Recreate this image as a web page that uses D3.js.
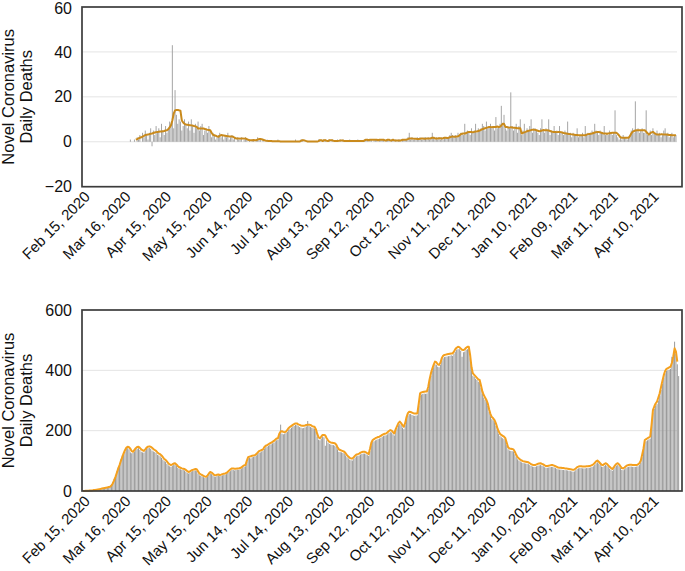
<!DOCTYPE html>
<html>
<head>
<meta charset="utf-8">
<script src="https://cdn.jsdelivr.net/npm/d3@7"></script>
<style>
  html, body { margin: 0; padding: 0; background: #fff; }
  svg { display: block; }
  text { font-family: "Liberation Sans", Arial, Helvetica, sans-serif; fill: #111; }
</style>
</head>
<body>
<svg id="chart" width="685" height="571"></svg>
<script>
// ---------------- DATA ----------------
// Day index 0 = Feb 15, 2020 (one value per day)
const tickLabels = ["Feb 15, 2020","Mar 16, 2020","Apr 15, 2020","May 15, 2020","Jun 14, 2020","Jul 14, 2020","Aug 13, 2020","Sep 12, 2020","Oct 12, 2020","Nov 11, 2020","Dec 11, 2020","Jan 10, 2021","Feb 09, 2021","Mar 11, 2021","Apr 10, 2021"];
const tickDays = [0,30,60,90,120,150,180,210,240,270,300,330,360,390,420];
const yTicksTop = [-20,0,20,40,60];
const yTicksBottom = [0,200,400,600];
const yTitle = ["Novel Coronavirus","Daily Deaths"];

// Top panel: daily deaths (bars)
const topDaily = [
null,null,null,null,null,null,null,null,null,null,
null,null,null,null,null,null,null,null,null,null,
null,null,null,null,null,null,null,null,null,null,
null,null,null,null,null,1,0,0,1,0,
2,1,3,0,4,2,5,3,1,4,
6,-2,5,3,7,4,6,2,8,5,
3,7,4,6,9,8,43,6,23,12,
8,10,9,5,7,10,8,6,9,5,
10,7,4,8,6,9,5,7,8,3,5,
6,4,7,5,2,4,3,1,2,3,
4,2,3,1,3,2,4,1,2,3,
1,2,0,2,1,1,2,0,1,2,
1,0,1,0,1,1,0,1,2,1,
1,0,1,0,0,1,0,0,0,0,
0,0,0,1,0,0,0,0,0,0,
0,0,0,0,0,0,1,0,0,0,
1,1,0,0,0,0,0,0,0,0,0,
0,0,1,1,0,0,1,1,0,0,
1,0,1,0,0,0,1,0,1,0,
1,0,0,0,0,1,0,0,0,0,
0,1,0,0,0,0,1,1,1,0,
1,1,0,1,1,1,0,1,1,1,
1,0,1,1,1,0,1,1,0,1,
0,1,1,0,1,1,1,1,2,4,
1,2,1,1,1,2,1,2,1,1,2,
2,1,2,1,2,4,2,1,2,1,
2,1,2,1,2,2,2,2,3,4,
3,2,3,2,4,3,4,4,3,8,
4,5,4,3,6,4,5,8,4,6,
5,6,8,7,5,9,6,7,8,6,
7,5,11,6,7,8,16,7,12,6,
5,7,6,22,7,5,6,8,4,7,
10,3,5,8,4,6,5,7,10,4,6,
6,5,4,3,6,10,5,4,6,5,
10,3,5,4,7,4,5,3,7,4,
4,3,5,4,9,3,4,2,4,3,
3,6,2,3,3,4,2,7,3,4,
3,4,5,4,8,5,4,3,5,4,
4,7,3,4,3,5,4,3,4,14,
3,2,1,2,1,3,2,2,1,2,
3,5,6,4,18,5,6,4,5,6,4,
4,14,3,4,5,3,6,4,3,5,
3,4,2,3,5,6,3,4,2,3,
4,2,3,3,null,null
];

// Top panel: moving average (line)
const topAvg = [
null,null,null,null,null,null,null,null,null,null,
null,null,null,null,null,null,null,null,null,null,
null,null,null,null,null,null,null,null,null,null,
null,null,null,null,null,null,null,null,null,1.0,
1.2,1.5,1.8,2.0,2.3,2.6,3.0,3.1,3.2,3.4,
3.6,3.7,3.9,4.1,4.3,4.4,4.5,4.6,4.6,4.7,
4.8,5.0,5.1,5.6,6.4,7.4,9.5,12.5,14.0,14.2,
14.1,14.0,13.8,9.5,8.6,8.0,7.7,7.6,7.5,7.4,
7.3,7.2,7.0,6.9,6.6,5.9,5.9,5.9,5.9,5.9,5.7,
5.5,5.3,5.2,5.1,4.0,3.1,2.9,2.7,2.4,2.2,
2.6,3.0,2.9,2.8,2.7,2.6,2.5,2.4,2.4,2.3,
2.2,1.8,1.5,1.5,1.5,1.4,1.5,1.5,1.4,1.5,
1.2,0.9,0.7,0.7,0.7,0.8,0.7,0.7,1.0,1.2,
1.2,1.1,0.9,0.7,0.5,0.4,0.3,0.3,0.3,0.2,
0.2,0.2,0.2,0.2,0.2,0.1,0.1,0.1,0.1,0.1,
0.1,0.1,0.1,0.1,0.1,0.1,0.1,0.1,0.1,0.1,
0.4,0.7,0.7,0.5,0.3,0.1,0.1,0.1,0.1,0.1,0.1,
0.1,0.1,0.3,0.7,0.7,0.3,0.7,0.7,0.4,0.3,
0.7,0.7,0.7,0.4,0.3,0.3,0.3,0.4,0.6,0.6,
0.6,0.3,0.3,0.3,0.3,0.3,0.3,0.3,0.3,0.3,
0.3,0.3,0.3,0.3,0.3,0.3,0.6,0.9,0.9,0.6,
0.9,0.9,0.9,0.9,0.9,0.9,0.6,0.9,0.9,0.9,
0.9,0.6,0.6,0.9,0.9,0.6,0.6,0.9,0.6,0.6,
0.6,0.6,0.6,0.6,0.9,0.9,0.9,1.0,1.2,1.5,
1.5,1.5,1.4,1.3,1.3,1.2,1.2,1.3,1.5,1.5,1.3,
1.3,1.5,1.5,1.5,1.6,1.8,1.8,1.5,1.5,1.5,
1.6,1.6,1.5,1.6,1.8,1.8,1.7,1.8,2.0,2.2,
2.4,2.2,2.2,2.3,2.4,2.8,3.4,3.6,3.7,3.7,
3.9,4.2,4.4,4.4,4.4,4.2,4.4,4.6,4.6,4.8,
5.0,5.3,5.6,5.8,6.0,6.2,6.4,6.6,6.6,6.5,
6.6,6.6,6.6,6.8,6.6,6.7,7.2,8.0,8.0,6.6,
6.6,6.4,6.3,6.5,6.4,6.2,6.2,6.1,6.0,6.0,
6.0,3.7,4.0,4.2,4.4,4.7,4.9,5.0,5.2,5.4,5.4,
5.3,5.1,4.9,4.7,4.8,5.0,5.2,5.1,5.1,5.1,
5.0,4.8,4.6,4.4,4.4,4.4,4.3,4.4,4.4,4.3,
4.1,3.9,3.8,3.7,3.6,3.5,3.4,3.3,3.2,3.1,
3.0,3.0,2.9,2.9,2.9,2.9,2.9,2.9,3.2,3.4,
3.5,3.6,3.7,3.9,4.1,4.3,4.4,4.4,4.2,4.0,
3.8,3.7,3.7,3.6,3.7,3.8,3.9,4.0,4.0,4.0,
4.0,3.5,2.8,2.0,1.8,1.8,1.8,1.8,1.8,1.8,
2.5,3.7,4.4,4.8,5.0,5.1,5.1,5.1,5.1,5.1,5.1,
5.1,4.5,3.8,3.2,3.8,4.2,4.4,3.9,3.5,3.2,
3.2,3.2,3.3,3.3,3.2,3.2,3.2,3.1,3.0,3.0,
2.9,2.9,2.9,2.9
];

// Bottom panel: daily deaths (bars)
const bottomDaily = [
0,0,0,1,0,1,2,1,2,3,
3,4,5,6,7,8,9,10,11,12,
13,20,30,40,52,65,78,92,105,118,
122,130,140,142,138,128,125,126,131,138,
140,142,136,130,128,127,134,140,142,143,
140,134,131,129,126,120,118,115,110,104,
99,97,90,85,82,80,84,86,88,83,
77,74,72,70,70,68,64,60,58,61,
64,66,67,68,66,58,52,50,48,46,43,
44,48,55,58,56,52,48,47,50,51,
49,50,52,53,54,56,60,63,66,70,
70,68,70,71,70,72,74,78,80,82,
96,108,110,108,112,113,115,118,122,127,
128,131,134,140,145,147,150,153,155,158,
160,165,168,170,185,220,190,188,190,192,
196,203,206,210,214,216,219,218,215,212,
210,208,209,211,214,232,215,212,210,208,206,
198,180,170,168,174,180,178,150,168,160,
156,154,153,152,150,146,138,130,129,128,
126,124,118,112,108,104,102,101,106,111,
115,116,118,121,123,124,124,122,119,116,
132,152,162,165,168,170,172,174,176,180,
182,184,185,188,192,195,194,188,184,198,
208,218,222,218,210,205,218,238,250,255,
255,252,250,249,250,251,282,315,320,322,323,
322,323,338,362,382,398,410,420,418,412,
410,418,432,440,444,445,446,447,448,450,
448,455,462,468,470,470,465,445,460,462,
468,470,470,440,400,382,378,372,368,362,
360,342,322,310,302,295,282,262,248,238,
234,228,216,202,190,182,178,175,172,168,
152,138,134,133,132,131,122,112,105,101,
98,95,93,92,91,90,89,86,83,81,80,
80,82,84,85,86,84,82,79,77,77,
78,79,80,80,78,76,74,72,71,71,
70,70,69,69,68,67,66,65,64,65,
69,73,75,76,76,75,75,75,76,76,
77,78,80,82,87,92,95,91,86,81,
80,83,86,84,79,74,70,67,72,79,
84,86,82,76,70,69,72,76,79,80,
81,81,80,80,80,81,82,86,94,112,133,
162,165,168,171,174,212,260,272,282,288,
300,315,335,355,375,390,398,400,402,405,
445,440,495,455,420,381
];

// Bottom panel: moving average (line)
const bottomAvg = [
0,0,1,1,1,2,2,2,3,3,
4,5,6,7,8,9,10,11,12,13,
14,18,25,35,47,60,74,86,100,112,
125,135,143,147,145,140,132,130,136,142,
146,147,143,138,135,133,138,144,147,148,
147,143,139,136,133,128,124,122,118,112,
106,103,98,92,88,86,88,91,92,88,
83,79,77,75,74,73,70,66,63,65,
68,70,71,73,72,65,58,55,53,50,48,
47,52,58,63,61,57,53,52,54,55,
53,54,56,57,58,60,64,68,72,75,
75,74,74,75,75,76,78,82,85,86,
100,112,114,115,117,118,119,122,127,132,
134,136,138,146,150,152,155,158,160,163,
166,170,174,175,190,197,198,196,195,197,
203,209,213,216,219,222,224,224,221,219,
217,216,216,217,219,220,220,219,216,214,213,
205,190,178,175,180,186,186,184,175,168,
163,161,160,159,158,154,145,138,136,134,
132,130,125,119,114,110,108,108,112,117,
121,122,124,127,129,130,130,128,125,122,
140,160,169,172,175,177,179,180,183,186,
188,190,191,195,199,202,200,195,191,205,
215,225,230,225,218,213,225,245,258,263,
262,260,258,257,257,257,290,324,327,328,329,
330,330,345,370,390,405,418,429,427,420,
418,425,440,448,451,452,453,454,455,456,
456,462,470,475,478,477,472,468,467,470,
475,478,478,450,410,390,385,380,375,370,
368,350,330,318,310,302,290,270,255,245,
241,235,224,210,198,190,186,183,180,175,
160,145,141,140,139,138,130,120,112,108,
104,101,99,98,97,96,95,92,89,87,86,
86,88,90,91,92,90,88,85,83,83,
84,85,86,86,84,82,80,78,77,77,
76,76,75,75,74,73,72,71,70,71,
75,79,81,82,82,81,81,81,82,82,
83,84,86,88,93,98,101,97,92,87,
86,89,92,90,85,80,76,73,78,85,
90,92,88,82,76,75,78,82,85,86,
87,87,86,86,86,86,88,92,100,119,140,
169,172,175,178,180,220,268,280,290,296,
310,324,345,365,384,398,405,407,410,412,
425,445,473,462,429
];

// ---------------- CHART ----------------
const svg = d3.select("#chart");
const nDays = 442;
const frameL = 82, frameR = 682;

const x = d3.scaleBand()
  .domain(d3.range(nDays))
  .range([82.5, 680.5])
  .paddingInner(0.28)
  .paddingOuter(0);
const bw = x.bandwidth();
const cx = i => x(i) + bw / 2;

function panel(cfg) {
  const g = svg.append("g");
  const y = d3.scaleLinear().domain(cfg.domain).range([cfg.bottom, cfg.top]);

  // gridlines
  g.append("g").selectAll("line")
    .data(cfg.grid)
    .join("line")
    .attr("x1", frameL).attr("x2", 677)
    .attr("y1", d => y(d)).attr("y2", d => y(d))
    .attr("stroke", "#e4e4e4").attr("stroke-width", 1);

  // bars
  const bars = cfg.daily.map((v, i) => ({ i, v })).filter(d => d.v !== null && d.v !== 0);
  g.append("g").selectAll("rect")
    .data(bars)
    .join("rect")
    .attr("x", d => x(d.i))
    .attr("width", bw)
    .attr("y", d => y(Math.max(0, d.v)))
    .attr("height", d => Math.abs(y(d.v) - y(0)))
    .attr("fill", cfg.barColor);

  // average line
  const line = d3.line()
    .defined(d => d !== null)
    .x((d, i) => cx(i))
    .y(d => y(d));
  g.append("path")
    .datum(cfg.avg)
    .attr("d", line)
    .attr("fill", "none")
    .attr("stroke", cfg.lineColor)
    .attr("stroke-width", 2)
    .attr("stroke-linejoin", "round");

  // frame
  g.append("rect")
    .attr("x", frameL).attr("y", cfg.top)
    .attr("width", frameR - frameL).attr("height", cfg.bottom - cfg.top)
    .attr("fill", "none").attr("stroke", "#3c3c3c").attr("stroke-width", 1.7);

  // y axis
  const ya = g.append("g")
    .attr("transform", `translate(${frameL},0)`)
    .call(d3.axisLeft(y).tickValues(cfg.yTicks).tickSize(0).tickPadding(10));
  ya.select(".domain").remove();
  ya.selectAll("text").attr("font-size", 16).attr("fill", "#111")
    .style("font-family", '"Liberation Sans", Arial, sans-serif')
    .attr("dy", d => (d === cfg.domain[1] && cfg.top < 10) ? "0.42em" : "0.32em");

  // x axis labels
  const xa = g.append("g")
    .attr("transform", `translate(0,${cfg.bottom})`)
    .call(d3.axisBottom(x).tickValues(tickDays).tickFormat((d, i) => tickLabels[i]).tickSize(0));
  xa.select(".domain").remove();
  xa.selectAll("text")
    .attr("font-size", 15)
    .attr("fill", "#111")
    .style("font-family", '"Liberation Sans", Arial, sans-serif')
    .attr("text-anchor", "end")
    .attr("x", 0).attr("y", 0).attr("dy", null)
    .attr("transform", "translate(8,11) rotate(-45)");

  // y title
  const cyT = (cfg.top + cfg.bottom) / 2;
  const t = g.append("text")
    .attr("transform", `translate(0,${cyT}) rotate(-90)`)
    .attr("text-anchor", "middle")
    .attr("font-size", 16.5);
  t.append("tspan").attr("x", 0).attr("y", 14).text(yTitle[0]);
  t.append("tspan").attr("x", 0).attr("y", 32).text(yTitle[1]);
}

panel({
  domain: [-20, 60], top: 7, bottom: 186.7,
  grid: [0, 20, 40], yTicks: yTicksTop,
  daily: topDaily, avg: topAvg,
  barColor: "#a3a3a3", lineColor: "#c98a1c"
});

panel({
  domain: [0, 600], top: 310, bottom: 491,
  grid: [200, 400], yTicks: yTicksBottom,
  daily: bottomDaily, avg: bottomAvg,
  barColor: "#989898", lineColor: "#f4a01e"
});
</script>
</body>
</html>
